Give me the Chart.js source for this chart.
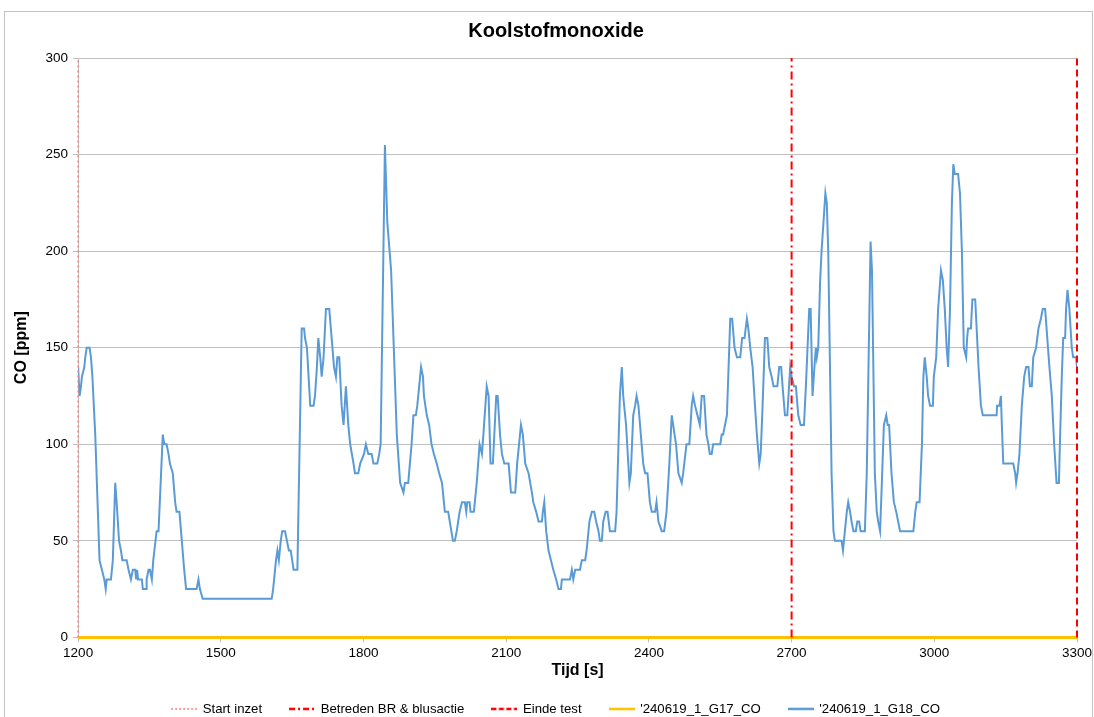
<!DOCTYPE html>
<html>
<head>
<meta charset="utf-8">
<title>Koolstofmonoxide</title>
<script src="https://cdn.jsdelivr.net/npm/chart.js@4.4.1/dist/chart.umd.min.js"></script>
<style>
  html, body { margin: 0; padding: 0; background: #fff; overflow: hidden; }
  #kader { position: absolute; left: 4px; top: 11px; width: 1087px; height: 720px; border: 1px solid #c4c4c4; }
  canvas { display: block; }
</style>
</head>
<body>
<div id="kader"><canvas id="coChart" width="1087" height="715"></canvas></div>
<script>
// markers (s)
const startInzet = 1200;
const betreden = 2700;
const eindeTest = 3300;
const yBereik = [0, 300];

// G17 sensor: flat zero
const g17Tijd = [1200, 3300];
const g17Waarden = [0, 0];

// G18 sensor (s / ppm)
const g18Tijd = [
    1200,1203,1206,1208,1213,1215,1218,1224,1227,1230,
    1236,1245,1250,1255,1258,1260,1269,1273,1278,1281,
    1286,1290,1293,1302,1306,1311,1315,1320,1322,1324,
    1326,1334,1336,1343,1344,1348,1351,1355,1358,1365,
    1369,1378,1381,1386,1390,1393,1399,1404,1407,1413,
    1418,1423,1427,1449,1453,1456,1462,1607,1610,1616,
    1619,1622,1626,1629,1635,1639,1643,1647,1650,1653,
    1661,1670,1675,1677,1681,1688,1695,1698,1702,1705,
    1709,1712,1716,1721,1728,1733,1738,1742,1745,1749,
    1754,1758,1763,1768,1772,1779,1782,1789,1793,1801,
    1805,1810,1817,1821,1829,1833,1836,1845,1850,1858,
    1870,1877,1884,1887,1894,1901,1905,1910,1913,1917,
    1921,1925,1927,1933,1938,1943,1948,1954,1959,1965,
    1971,1978,1988,1992,1996,2002,2007,2013,2016,2018,
    2023,2025,2032,2038,2044,2049,2052,2059,2063,2067,
    2072,2079,2082,2087,2091,2096,2105,2110,2119,2123,
    2131,2135,2140,2147,2154,2157,2163,2168,2175,2177,
    2180,2184,2189,2194,2199,2205,2210,2215,2217,2234,
    2238,2241,2245,2255,2259,2266,2269,2275,2280,2285,
    2289,2294,2297,2301,2304,2309,2313,2318,2329,2332,
    2336,2339,2343,2346,2352,2359,2362,2367,2371,2374,
    2378,2383,2388,2392,2397,2402,2406,2413,2416,2420,
    2427,2432,2437,2443,2448,2451,2457,2462,2469,2472,
    2479,2485,2490,2493,2497,2502,2507,2511,2516,2521,
    2525,2528,2532,2535,2550,2553,2556,2560,2564,2571,
    2575,2580,2585,2592,2596,2601,2606,2609,2613,2618,
    2623,2627,2632,2635,2639,2644,2649,2653,2658,2662,
    2670,2674,2678,2681,2686,2691,2697,2700,2705,2709,
    2714,2719,2726,2730,2737,2740,2744,2748,2751,2753,
    2756,2760,2763,2767,2771,2774,2777,2781,2784,2788,
    2791,2805,2808,2810,2812,2816,2819,2823,2826,2830,
    2835,2838,2842,2845,2854,2858,2866,2869,2875,2879,
    2882,2886,2889,2894,2899,2902,2905,2910,2915,2920,
    2924,2928,2956,2960,2963,2969,2974,2977,2980,2984,
    2987,2991,2997,2999,3004,3008,3014,3018,3022,3026,
    3029,3033,3037,3040,3043,3050,3054,3058,3062,3067,
    3069,3071,3077,3080,3086,3089,3093,3098,3102,3131,
    3132,3137,3140,3142,3145,3166,3170,3172,3175,3179,
    3184,3189,3193,3198,3201,3205,3208,3214,3219,3224,
    3228,3233,3236,3242,3247,3252,3257,3262,3264,3268,
    3271,3275,3277,3280,3284,3289,3292,3298,3300
];
const g18Waarden = [
    140,125,130,135,140,145,150,150,145,135,
    105,40,35,30,25,30,30,40,80,70,
    50,45,40,40,35,30,35,35,30,35,
    30,30,25,25,30,35,35,30,40,55,
    55,105,100,100,95,90,85,70,65,65,
    50,35,25,25,30,25,20,20,25,40,
    45,40,50,55,55,50,45,45,40,35,
    35,160,160,155,150,120,120,125,140,155,
    145,135,145,170,170,155,140,135,145,145,
    120,110,130,110,100,90,85,85,90,95,
    100,95,95,90,90,95,100,255,215,190,
    105,80,75,80,80,100,115,115,120,130,
    140,135,125,115,110,100,95,90,85,80,
    65,65,50,50,55,65,70,70,65,70,
    70,65,65,80,100,95,105,130,125,90,
    90,125,125,105,95,90,90,75,75,90,
    110,105,90,85,75,70,65,60,60,65,
    70,55,45,40,35,30,25,25,30,30,
    35,30,35,35,40,40,45,60,65,65,
    60,55,50,50,60,65,65,55,55,65,
    100,125,140,125,110,80,85,115,120,125,
    120,105,90,85,85,70,65,65,70,60,
    55,55,65,90,115,110,100,85,80,85,
    100,100,120,125,120,115,110,125,125,105,
    100,95,95,100,100,105,105,110,115,165,
    165,150,145,145,155,155,165,160,150,140,
    120,105,90,95,120,155,155,140,135,130,
    130,140,140,130,115,115,140,135,130,130,
    115,110,110,130,170,170,125,140,150,145,
    150,185,200,215,230,225,200,135,85,55,
    50,50,45,50,55,65,70,65,60,55,
    55,60,60,55,55,85,205,190,85,65,
    60,55,75,110,115,110,110,85,70,65,
    60,55,55,65,70,70,100,135,145,135,
    125,120,120,135,145,170,190,185,170,150,
    140,170,225,245,240,240,230,200,150,145,
    155,160,160,175,175,160,140,120,115,115,
    120,120,125,110,90,90,85,80,85,95,
    120,135,140,140,130,130,145,150,160,165,
    170,170,160,140,125,100,80,80,100,135,
    155,155,170,180,170,150,145,145,140
];

const ROOD = '#ff0000';
const ROZE = '#ff7c80';
const GEEL = '#ffc000';
const BLAUW = '#5b9bd5';
const GRIJS = '#c0c0c0';

Chart.defaults.font.family = "'Liberation Sans', Arial, sans-serif";
Chart.defaults.color = '#000';

// little line sample for the legend
function legendLijn(kleur, dikte, streep) {
    const c = document.createElement('canvas');
    c.width = 26; c.height = 8;
    const g = c.getContext('2d');
    g.strokeStyle = kleur;
    g.lineWidth = dikte;
    g.setLineDash(streep);
    g.beginPath();
    g.moveTo(0, 4);
    g.lineTo(26, 4);
    g.stroke();
    return c;
}

function verticaal(x) {
    return yBereik.map(y => ({ x: x, y: y }));
}

const ctx = document.getElementById('coChart').getContext('2d');
const coChart = new Chart(ctx, {
    type: 'line',
    data: {
        datasets: [
            {
                label: 'Start inzet',
                data: verticaal(startInzet),
                borderColor: ROZE, borderWidth: 1.5, borderDash: [2, 3],
                pointStyle: legendLijn(ROZE, 1.5, [2, 2]), clip: false
            },
            {
                label: 'Betreden BR & blusactie',
                data: verticaal(betreden),
                borderColor: ROOD, borderWidth: 2, borderDash: [8, 4, 2, 4],
                pointStyle: legendLijn(ROOD, 2.5, [6, 3, 2, 3]), clip: false
            },
            {
                label: 'Einde test',
                data: verticaal(eindeTest),
                borderColor: ROOD, borderWidth: 2, borderDash: [7, 4],
                pointStyle: legendLijn(ROOD, 2.5, [5, 2.5]), clip: false
            },
            {
                label: "'240619_1_G17_CO",
                data: g17Tijd.map((t, i) => ({ x: t, y: g17Waarden[i] })),
                borderColor: GEEL, borderWidth: 3,
                pointStyle: legendLijn(GEEL, 2.5, []), clip: false
            },
            {
                label: "'240619_1_G18_CO",
                data: g18Tijd.map((t, i) => ({ x: t, y: g18Waarden[i] })),
                borderColor: BLAUW, borderWidth: 2,
                pointStyle: legendLijn(BLAUW, 2.5, [])
            }
        ]
    },
    options: {
        responsive: false,
        animation: false,
        layout: { padding: { left: 30, right: 15, top: 0, bottom: 1.5 } },
        elements: { line: { tension: 0 }, point: { radius: 0, hoverRadius: 0 } },
        plugins: {
            title: {
                display: true,
                text: 'Koolstofmonoxide',
                font: { size: 20, weight: 'bold' },
                padding: { top: 7, bottom: 15 }
            },
            legend: {
                position: 'bottom',
                labels: {
                    usePointStyle: true,
                    pointStyleWidth: 24,
                    padding: 28,
                    font: { size: 13.2 }
                }
            },
            tooltip: { enabled: false }
        },
        scales: {
            x: {
                type: 'linear',
                min: 1200, max: 3300,
                ticks: { stepSize: 300, padding: 3, font: { size: 13.5 }, callback: v => String(v) },
                grid: { drawOnChartArea: false, tickLength: 5, color: GRIJS },
                border: { color: GRIJS },
                title: { display: true, text: 'Tijd [s]', font: { size: 16, weight: 'bold' }, padding: { top: -4, bottom: -5.5 } },
                // let the end labels hang over the plot edge
                afterFit: s => { s.paddingLeft = 0; s.paddingRight = 0; }
            },
            y: {
                min: 0, max: 300,
                ticks: { stepSize: 50, padding: 5, font: { size: 13.5 } },
                grid: { color: GRIJS, tickLength: 5 },
                border: { color: GRIJS },
                title: { display: true, text: 'CO [ppm]', font: { size: 16, weight: 'bold' }, padding: { top: -22.6, bottom: 9 } }
            }
        }
    }
});
</script>
</body>
</html>
